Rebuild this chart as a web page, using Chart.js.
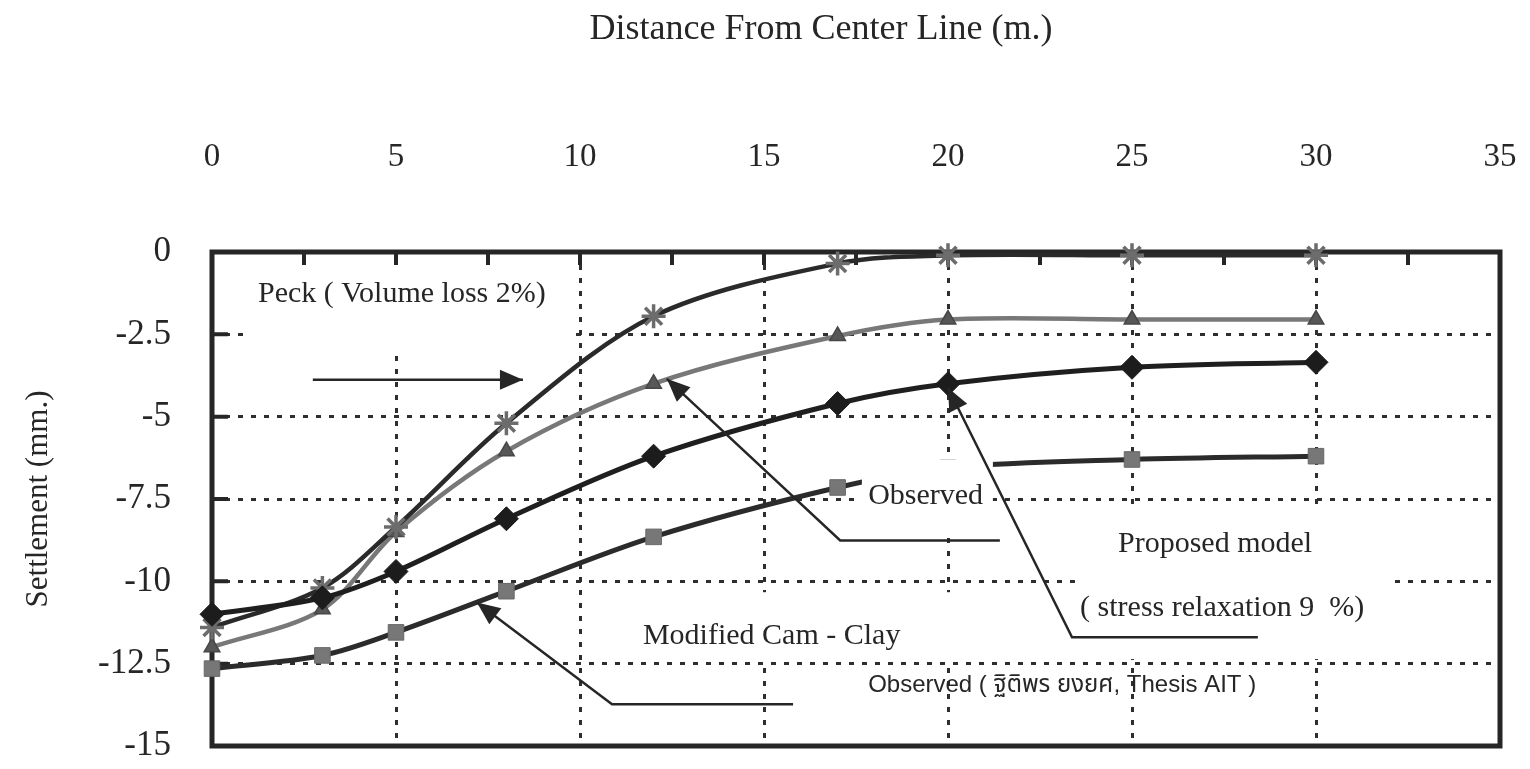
<!DOCTYPE html>
<html>
<head>
<meta charset="utf-8">
<title>Settlement profile</title>
<script src="https://cdn.jsdelivr.net/npm/chart.js@4/dist/chart.umd.min.js"></script>
<style>
  html, body { margin: 0; padding: 0; background: #ffffff; }
  canvas { display: block; }
</style>
</head>
<body>
<canvas id="chart" width="1530" height="769"></canvas>
<script>
// Distance from the tunnel center line (m) at which settlement is reported
const distances = [0, 3, 5, 8, 12, 17, 20, 25, 30];

// Surface settlement (mm) for each method
const peckSettlement     = [-11.4, -10.2, -8.35, -5.2, -1.95, -0.35, -0.1, -0.1, -0.1];
const observedSettlement = [-12.0, -10.85, -8.5, -6.05, -4.0, -2.55, -2.05, -2.05, -2.05];
const proposedSettlement = [-11.0, -10.5, -9.7, -8.1, -6.2, -4.6, -4.0, -3.5, -3.35];
const camClaySettlement  = [-12.65, -12.25, -11.55, -10.3, -8.65, -7.15, -6.55, -6.3, -6.2];

// Axis tick values
const xTickValues = [0, 5, 10, 15, 20, 25, 30, 35];
const yTickValues = [0, -2.5, -5, -7.5, -10, -12.5, -15];
const xMinorTicks = [2.5, 5, 7.5, 10, 12.5, 15, 17.5, 20, 22.5, 25, 27.5, 30, 32.5];

const SERIF = "'Liberation Serif', 'Times New Roman', serif";
const SANS = "'Liberation Sans', 'Noto Sans Thai', 'DejaVu Sans', Arial, sans-serif";
const INK = '#262626';

const toPoints = (ys) => distances.map((d, i) => ({ x: d, y: ys[i] }));

// Draws a straight pointer with a filled arrowhead at its tip
function pointer(ctx, pts, head) {
  ctx.beginPath();
  ctx.moveTo(pts[0][0], pts[0][1]);
  for (let i = 1; i < pts.length; i++) ctx.lineTo(pts[i][0], pts[i][1]);
  ctx.stroke();
  const [tx, ty] = pts[pts.length - 1];
  const [fx, fy] = pts[pts.length - 2];
  const ang = Math.atan2(ty - fy, tx - fx);
  const L = head.len, W = head.half;
  const bx = tx - L * Math.cos(ang), by = ty - L * Math.sin(ang);
  ctx.beginPath();
  ctx.moveTo(tx, ty);
  ctx.lineTo(bx + W * Math.sin(ang), by - W * Math.cos(ang));
  ctx.lineTo(bx - W * Math.sin(ang), by + W * Math.cos(ang));
  ctx.closePath();
  ctx.fill();
}

// Axis sizes are fixed so the plot frame lands where the labels expect it
function fixAxis(size) {
  return (s) => {
    if (s.isHorizontal()) s.height = size; else s.width = size;
    s.paddingLeft = 0; s.paddingRight = 0; s.paddingTop = 0; s.paddingBottom = 0;
  };
}

const notesPlugin = {
  id: 'notes',
  beforeDatasetsDraw(chart) {
    const { ctx, chartArea: a, scales: { x, y } } = chart;
    const px = (v) => x.getPixelForValue(v);
    const py = (v) => y.getPixelForValue(v);
    ctx.save();
    // text boxes that sit over the grid
    ctx.fillStyle = '#ffffff';
    const boxes = [
      [1.03, 9.89, -0.09, -3.15],
      [23.45, 32.07, -7.76, -12.36],
      [11.22, 20.46, -10.33, -12.42]
    ];
    for (const [x0, x1, y0, y1] of boxes) {
      ctx.fillRect(px(x0), py(y0), px(x1) - px(x0), py(y1) - py(y0));
    }
    // plot frame
    ctx.strokeStyle = INK;
    ctx.lineWidth = 5;
    ctx.strokeRect(a.left, a.top, a.right - a.left, a.bottom - a.top);
    // inward tick marks
    ctx.lineWidth = 4;
    ctx.beginPath();
    for (const v of xMinorTicks) {
      ctx.moveTo(px(v), a.top);
      ctx.lineTo(px(v), a.top + 13);
    }
    for (const v of yTickValues.slice(1, -1)) {
      ctx.moveTo(a.left, py(v));
      ctx.lineTo(a.left + 16, py(v));
    }
    ctx.stroke();
    ctx.restore();
  },
  afterDatasetsDraw(chart) {
    const { ctx, scales: { x, y } } = chart;
    const px = (v) => x.getPixelForValue(v);
    const py = (v) => y.getPixelForValue(v);
    ctx.save();
    // label box beside the observed curve
    ctx.fillStyle = '#ffffff';
    ctx.fillRect(px(17.66), py(-6.30), px(21.22) - px(17.66), py(-8.64) - py(-6.30));

    // axis title along the top
    ctx.fillStyle = INK;
    ctx.textBaseline = 'middle';
    ctx.textAlign = 'center';
    ctx.font = '36px ' + SERIF;
    ctx.fillText('Distance From Center Line (m.)', 821, 30);

    // curve labels
    ctx.textAlign = 'left';
    ctx.font = '30px ' + SERIF;
    ctx.fillText('Peck ( Volume loss 2%)', px(1.25), py(-1.27));
    ctx.fillText('Observed', px(17.83), py(-7.42));
    ctx.fillText('Proposed model', px(24.62), py(-8.88));
    ctx.fillText('( stress relaxation 9  %)', px(23.59), py(-10.82));
    ctx.fillText('Modified Cam - Clay', px(11.71), py(-11.67));
    ctx.font = '24px ' + SANS;
    ctx.fillText('Observed ( ฐิติพร ยงยศ, Thesis AIT )', px(17.83), py(-13.15));

    // pointers
    ctx.strokeStyle = INK;
    ctx.lineWidth = 2.5;
    const head = { len: 23, half: 10 };
    pointer(ctx, [[px(2.74), py(-3.88)], [px(8.45), py(-3.88)]], head);
    pointer(ctx, [[px(21.41), py(-8.76)], [px(17.07), py(-8.76)], [px(12.36), py(-3.85)]], head);
    pointer(ctx, [[px(28.42), py(-11.70)], [px(23.37), py(-11.70)], [px(20.0), py(-4.12)]], head);
    pointer(ctx, [[px(15.79), py(-13.73)], [px(10.87), py(-13.73)], [px(7.2), py(-10.64)]], head);
    ctx.restore();
  }
};

const gridStyle = { color: '#2e2e2e', lineWidth: 3, drawTicks: false };

new Chart(document.getElementById('chart'), {
  type: 'line',
  data: {
    datasets: [
      {
        label: 'Proposed model',
        data: toPoints(proposedSettlement),
        borderColor: '#1f1f1f', borderWidth: 5,
        pointStyle: 'rectRot', pointRadius: 12,
        pointBackgroundColor: '#1c1c1c', pointBorderColor: '#1c1c1c', pointBorderWidth: 1
      },
      {
        label: 'Peck',
        data: toPoints(peckSettlement),
        borderColor: '#2a2a2a', borderWidth: 4.5,
        pointStyle: 'star', pointRadius: 12,
        pointBackgroundColor: '#6c6c6c', pointBorderColor: '#6c6c6c', pointBorderWidth: 3.5
      },
      {
        label: 'Observed',
        data: toPoints(observedSettlement),
        borderColor: '#787878', borderWidth: 4.5,
        pointStyle: 'triangle', pointRadius: 9,
        pointBackgroundColor: '#575757', pointBorderColor: '#474747', pointBorderWidth: 1.5
      },
      {
        label: 'Modified Cam - Clay',
        data: toPoints(camClaySettlement),
        borderColor: '#2b2b2b', borderWidth: 5,
        pointStyle: 'rect', pointRadius: 11,
        pointBackgroundColor: '#777777', pointBorderColor: '#686868', pointBorderWidth: 1
      }
    ]
  },
  options: {
    responsive: false,
    animation: false,
    events: [],
    clip: 20,
    layout: { padding: { left: 0, top: 0, right: 30, bottom: 23 } },
    elements: { line: { tension: 0.32, fill: false } },
    plugins: { legend: { display: false }, tooltip: { enabled: false } },
    scales: {
      x: {
        type: 'linear',
        position: 'top',
        min: 0, max: 35,
        afterBuildTicks: (s) => { s.ticks = xTickValues.map((v) => ({ value: v })); },
        afterFit: fixAxis(252),
        ticks: { font: { family: SERIF, size: 33 }, color: INK, padding: 75, maxRotation: 0 },
        grid: gridStyle,
        border: { display: false, dash: [5, 8] }
      },
      y: {
        type: 'linear',
        position: 'left',
        min: -15, max: 0,
        afterBuildTicks: (s) => { s.ticks = yTickValues.map((v) => ({ value: v })); },
        afterFit: fixAxis(212),
        ticks: { font: { family: SERIF, size: 35 }, color: INK, padding: 41 },
        grid: gridStyle,
        border: { display: false, dash: [5, 8] },
        title: {
          display: true,
          text: 'Settlement (mm.)',
          font: { family: SERIF, size: 31 },
          color: INK,
          padding: { top: 20, bottom: 0 }
        }
      }
    }
  },
  plugins: [notesPlugin]
});
</script>
</body>
</html>
